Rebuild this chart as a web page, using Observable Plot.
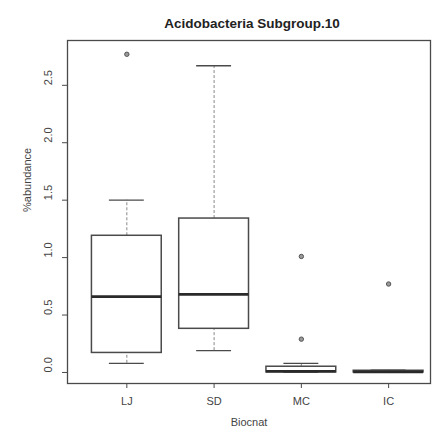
<!DOCTYPE html>
<html>
<head>
<meta charset="utf-8">
<script src="https://cdn.jsdelivr.net/npm/d3@7"></script>
<script src="https://cdn.jsdelivr.net/npm/@observablehq/plot@0.6"></script>
<style>
  body { margin: 0; background: #fff; }
</style>
</head>
<body>
<div id="chart"></div>
<script>
const title = "Acidobacteria Subgroup.10";
const xLabel = "Biocnat";
const yLabel = "%abundance";
const categories = ["LJ", "SD", "MC", "IC"];
const lowerWhisker = [0.08, 0.19, 0.0, 0.0];
const q1 = [0.17, 0.38, 0.0, 0.0];
const median = [0.66, 0.68, 0.01, 0.005];
const q3 = [1.19, 1.34, 0.05, 0.015];
const upperWhisker = [1.50, 2.67, 0.08, 0.02];
const outlierGroup = ["LJ", "MC", "MC", "IC"];
const outlierValue = [2.77, 1.01, 0.29, 0.77];
const yTicks = [0, 0.5, 1.0, 1.5, 2.0, 2.5];

const stats = categories.map((c, i) => ({
  cat: c, pos: i + 1,
  lo: lowerWhisker[i], q1: q1[i], med: median[i], q3: q3[i], hi: upperWhisker[i]
}));
const outliers = outlierGroup.map((g, i) => ({pos: categories.indexOf(g) + 1, v: outlierValue[i]}));
const ink = "#4a4a4a";

const chart = Plot.plot({
  width: 439,
  height: 436,
  marginTop: 40,
  marginBottom: 53,
  marginLeft: 67,
  marginRight: 9,
  style: {fontFamily: "'Liberation Sans', Arial, sans-serif", fontSize: "11px", color: "#333", background: "#fff"},
  x: {type: "linear", domain: [0.32, 4.48], axis: null},
  y: {domain: [-0.096, 2.89], axis: null},
  marks: [
    Plot.frame({stroke: ink, strokeWidth: 1.3}),
    // whiskers
    Plot.ruleX(stats, {x: "pos", y1: "q3", y2: "hi", stroke: "#888", strokeDasharray: "3,2"}),
    Plot.ruleX(stats, {x: "pos", y1: "lo", y2: "q1", stroke: "#888", strokeDasharray: "3,2"}),
    // caps
    Plot.ruleY(stats, {y: "hi", x1: d => d.pos - 0.2, x2: d => d.pos + 0.2, stroke: ink, strokeWidth: 1.3}),
    Plot.ruleY(stats, {y: "lo", x1: d => d.pos - 0.2, x2: d => d.pos + 0.2, stroke: ink, strokeWidth: 1.3}),
    // boxes
    Plot.rect(stats, {x1: d => d.pos - 0.4, x2: d => d.pos + 0.4, y1: "q1", y2: "q3", fill: "white", stroke: ink, strokeWidth: 1.5}),
    // medians
    Plot.ruleY(stats, {y: "med", x1: d => d.pos - 0.4, x2: d => d.pos + 0.4, stroke: "#2a2a2a", strokeWidth: 2.6}),
    // outliers
    Plot.dot(outliers, {x: "pos", y: "v", r: 2.2, stroke: "#555", fill: "#999", strokeWidth: 1}),
    // y axis
    Plot.axisY({ticks: yTicks, tickSize: 5, tickFormat: () => "", stroke: ink}),
    Plot.text(yTicks, {y: d => d, text: d => d.toFixed(1), frameAnchor: "left", dx: -19, rotate: -90, fill: "#444", fontSize: 11}),
    // x axis
    Plot.axisX({ticks: categories.map((c, i) => i + 1), tickFormat: i => categories[i - 1], tickSize: 5, tickPadding: 9, stroke: ink, fill: "#444", fontSize: 11, label: null}),
    // labels
    Plot.text([xLabel], {frameAnchor: "bottom", dy: 42, text: d => d, fill: "#444", fontSize: 11}),
    Plot.text([yLabel], {frameAnchor: "left", dx: -40, rotate: -90, text: d => d, fill: "#444", fontSize: 11}),
    Plot.text([title], {frameAnchor: "top", dy: -22, dx: 3, text: d => d, fontWeight: "bold", fontSize: 13.5, fill: "#222"})
  ]
});
document.getElementById("chart").appendChild(chart);
</script>
</body>
</html>
